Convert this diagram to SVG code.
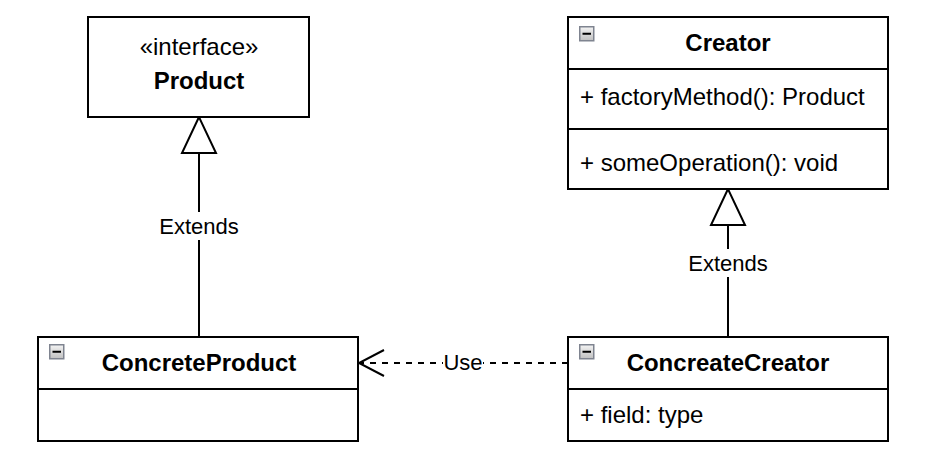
<svg xmlns="http://www.w3.org/2000/svg" width="930" height="456" viewBox="0 0 930 456">
  <defs>
    <linearGradient id="icoGrad" x1="0" y1="0" x2="0" y2="1">
      <stop offset="0" stop-color="#f4f4f4"/>
      <stop offset="1" stop-color="#c0c0c0"/>
    </linearGradient>
    <g id="minusIcon">
      <rect x="0.75" y="0.75" width="14" height="14" fill="url(#icoGrad)" stroke="#7f8490" stroke-width="1.5"/>
      <line x1="3.5" y1="7.75" x2="12" y2="7.75" stroke="#000" stroke-width="2"/>
    </g>
  </defs>
  <style>
    .box { fill: #ffffff; stroke: #000000; stroke-width: 2; }
    .div { stroke: #000000; stroke-width: 2; }
    .t { font-family: "Liberation Sans", Arial, Helvetica, sans-serif; font-size: 24px; fill: #000000; }
    .b { font-weight: bold; }
    .mid { text-anchor: middle; }
    .lbl { font-family: "Liberation Sans", Arial, Helvetica, sans-serif; font-size: 22px; fill: #000000; text-anchor: middle; }
    .edge { fill: none; stroke: #000000; stroke-width: 2; }
    .dash { stroke-dasharray: 6 6; }
    .tri { fill: #ffffff; stroke: #000000; stroke-width: 2; }
  </style>
  <rect width="930" height="456" fill="#ffffff"/>

  <g id="connectors">
    <!-- ConcreteProduct -> Product -->
    <line class="edge" x1="199" y1="153" x2="199" y2="337"/>
    <polygon class="tri" points="199,117 182,153 216,153"/>
    <rect x="158" y="212" width="82" height="28" fill="#ffffff"/>
    <text class="lbl" x="199" y="234">Extends</text>
    <!-- ConcreateCreator -> Creator -->
    <line class="edge" x1="728" y1="225" x2="728" y2="337"/>
    <polygon class="tri" points="728,189 711,225 745,225"/>
    <rect x="687" y="249" width="82" height="28" fill="#ffffff"/>
    <text class="lbl" x="728" y="271">Extends</text>
    <!-- ConcreateCreator -> ConcreteProduct (Use) -->
    <line class="edge dash" x1="568" y1="363" x2="360" y2="363"/>
    <polyline class="edge" points="384,350 359,363 384,376"/>
    <rect x="443" y="349" width="40" height="28" fill="#ffffff"/>
    <text class="lbl" x="463" y="370">Use</text>
  </g>

  <g id="product">
    <rect class="box" x="88" y="17" width="221" height="100"/>
    <text class="t mid" x="199" y="55">«interface»</text>
    <text class="t b mid" x="199" y="89">Product</text>
  </g>

  <g id="creator">
    <rect class="box" x="568" y="17" width="320" height="172"/>
    <line class="div" x1="568" y1="69" x2="888" y2="69"/>
    <line class="div" x1="568" y1="129" x2="888" y2="129"/>
    <use href="#minusIcon" x="579" y="26"/>
    <text class="t b mid" x="728" y="51">Creator</text>
    <text class="t" x="580" y="105">+ factoryMethod(): Product</text>
    <text class="t" x="580" y="171">+ someOperation(): void</text>
  </g>

  <g id="concreteProduct">
    <rect class="box" x="38" y="337" width="320" height="104"/>
    <line class="div" x1="38" y1="389" x2="358" y2="389"/>
    <use href="#minusIcon" x="49" y="344"/>
    <text class="t b mid" x="199" y="371">ConcreteProduct</text>
  </g>

  <g id="concreateCreator">
    <rect class="box" x="568" y="337" width="320" height="104"/>
    <line class="div" x1="568" y1="389" x2="888" y2="389"/>
    <use href="#minusIcon" x="579" y="344"/>
    <text class="t b mid" x="728" y="371">ConcreateCreator</text>
    <text class="t" x="580" y="423">+ field: type</text>
  </g>
</svg>
